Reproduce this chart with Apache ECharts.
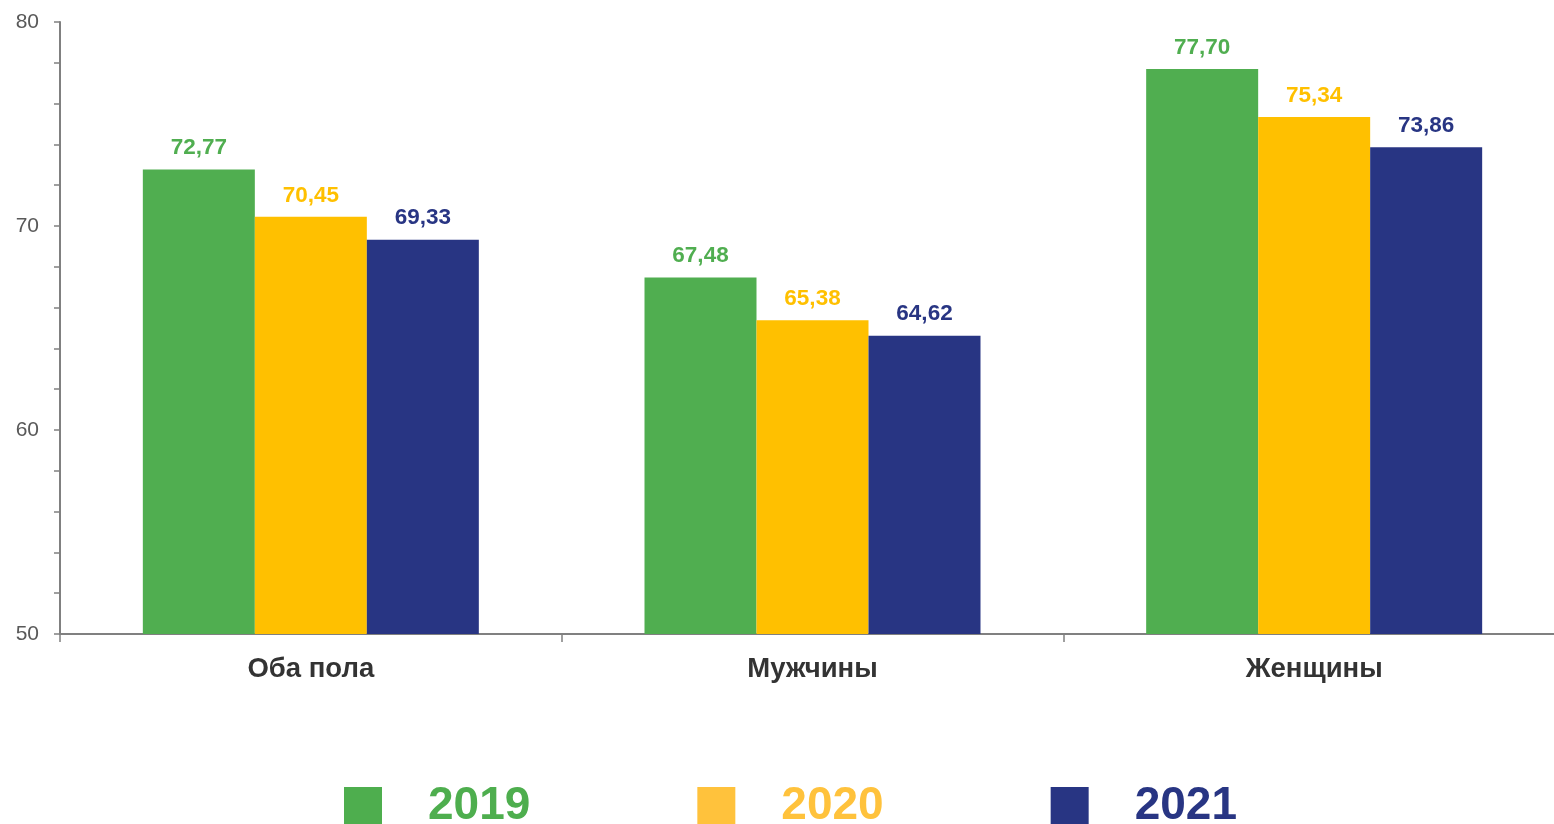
<!DOCTYPE html>
<html><head><meta charset="utf-8">
<script src="https://cdn.jsdelivr.net/npm/echarts@6/dist/echarts.min.js"></script>
<style>html,body{margin:0;padding:0;background:#fff}#c{width:1554px;height:824px}</style>
</head><body><div id="c"></div>
<script>
var categories = ['Оба пола', 'Мужчины', 'Женщины'];
var years = ['2019', '2020', '2021'];
var values2019 = [72.77, 67.48, 77.70];
var values2020 = [70.45, 65.38, 75.34];
var values2021 = [69.33, 64.62, 73.86];
var yTicks = [50, 60, 70, 80];

var barColors = ['#50AE50', '#FFC000', '#283583'];
var legendColors = ['#4EAE4E', '#FFC23C', '#283583'];
var seriesValues = [values2019, values2020, values2021];

var chart = echarts.init(document.getElementById('c'), null, {renderer: 'canvas'});
var font = 'Liberation Sans, Arial, sans-serif';

var series = years.map(function (y, i) {
  return {
    name: y,
    type: 'bar',
    data: seriesValues[i],
    barWidth: 112,
    barGap: '0%',
    itemStyle: {color: barColors[i]},
    label: {
      show: true,
      position: 'top',
      distance: 10,
      color: barColors[i],
      fontFamily: font,
      fontWeight: 'bold',
      fontSize: 22.5,
      formatter: function (p) { return p.value.toFixed(2).replace('.', ','); }
    }
  };
});

chart.setOption({
  animation: false,
  backgroundColor: '#fff',
  grid: {left: 60, right: -11, top: 22, bottom: 190, containLabel: false, outerBoundsMode: 'none'},
  legend: {
    left: 339,
    top: 778,
    itemWidth: 38,
    itemHeight: 38,
    itemGap: 167,
    icon: 'rect',
    data: years.map(function (y, i) {
      return {name: y, itemStyle: {color: legendColors[i]},
        textStyle: {color: legendColors[i], fontSize: 46, fontWeight: 'bold', fontFamily: font, padding: [0, 0, 0, 41]}};
    })
  },
  xAxis: {
    type: 'category',
    data: categories,
    axisLine: {lineStyle: {color: '#808080', width: 2}},
    axisTick: {show: true, length: 8, lineStyle: {color: '#808080', width: 1.5}},
    axisLabel: {color: '#333', fontFamily: font, fontWeight: 'bold', fontSize: 27.5, margin: 21}
  },
  yAxis: {
    type: 'value',
    min: yTicks[0],
    max: yTicks[yTicks.length - 1],
    interval: 2,
    splitLine: {show: false},
    axisLine: {show: true, lineStyle: {color: '#808080', width: 2}},
    axisTick: {show: true, length: 6, lineStyle: {color: '#808080', width: 1.5}},
    axisLabel: {
      color: '#595959', fontFamily: font, fontSize: 21, margin: 21,
      formatter: function (v) { return yTicks.indexOf(v) >= 0 ? String(v) : ''; }
    }
  },
  series: series
});
</script>
</body></html>
